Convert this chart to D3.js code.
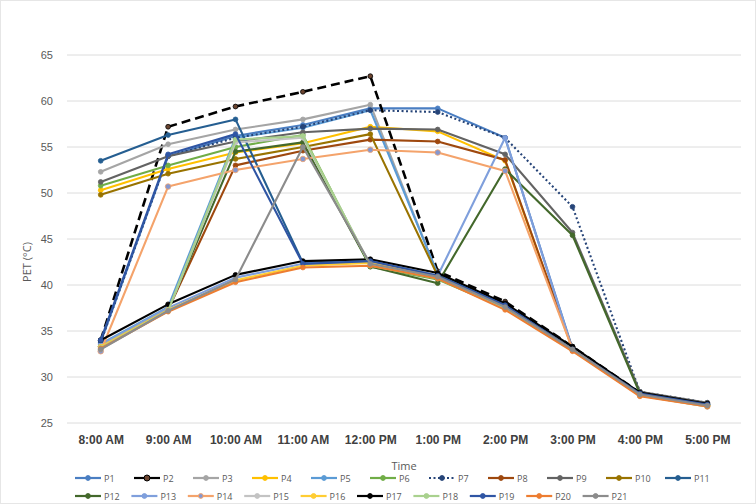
<!DOCTYPE html>
<html>
<head>
<meta charset="utf-8">
<script src="https://cdn.jsdelivr.net/npm/d3@7"></script>
<style>
  body { margin: 0; background: #fff; }
  svg { display: block; font-family: "Open Sans", "Liberation Sans", sans-serif; }
</style>
</head>
<body>
<svg id="canvas"></svg>
<script>
let width = 756;
let height = 504;

// data
const times = ['8:00 AM', '9:00 AM', '10:00 AM', '11:00 AM', '12:00 PM', '1:00 PM', '2:00 PM', '3:00 PM', '4:00 PM', '5:00 PM'];
const yTicks = [25, 30, 35, 40, 45, 50, 55, 60, 65];

const p1 = [33.8, 54.0, 56.2, 57.4, 59.2, 59.2, 56.0, 33.1, 28.2, 27.0];
const p2 = [34.0, 57.2, 59.4, 61.0, 62.7, 41.5, 38.2, 33.3, 28.3, 27.1];
const p3 = [52.3, 55.3, 56.9, 58.0, 59.6, 41.1, 37.8, 33.0, 28.2, 27.0];
const p4 = [50.3, 52.6, 54.4, 55.4, 57.2, 56.7, 53.5, 33.0, 28.1, 26.9];
const p5 = [33.6, 37.6, 56.0, 57.1, 59.0, 41.2, 37.9, 33.0, 28.2, 27.0];
const p6 = [50.8, 53.0, 55.0, 56.3, 42.0, 40.6, 37.5, 32.9, 28.1, 26.9];
const p7 = [33.8, 54.0, 56.0, 57.2, 59.0, 58.8, 56.0, 48.5, 28.4, 27.2];
const p8 = [33.3, 37.3, 53.0, 54.6, 55.8, 55.6, 53.6, 33.1, 28.1, 26.9];
const p9 = [51.2, 54.0, 55.6, 56.6, 57.0, 56.9, 54.2, 45.7, 28.4, 27.2];
const p10 = [49.8, 52.1, 53.7, 55.0, 56.4, 41.0, 37.6, 33.0, 28.1, 26.9];
const p11 = [53.5, 56.3, 58.0, 42.4, 42.6, 41.0, 37.8, 33.0, 28.2, 27.0];
const p12 = [33.3, 37.3, 54.5, 55.5, 42.0, 40.2, 52.6, 45.4, 28.2, 27.0];
const p13 = [33.5, 37.5, 40.8, 42.3, 42.6, 41.0, 56.0, 33.0, 28.2, 27.0];
const p14 = [32.8, 50.7, 52.5, 53.7, 54.7, 54.4, 52.4, 33.0, 28.0, 26.8];
const p15 = [33.0, 37.2, 55.5, 56.0, 42.2, 40.8, 37.5, 32.9, 28.0, 26.8];
const p16 = [33.3, 37.3, 40.5, 42.1, 42.4, 40.9, 37.6, 33.0, 28.1, 26.9];
const p17 = [34.0, 37.9, 41.1, 42.6, 42.8, 41.3, 38.0, 33.3, 28.3, 27.1];
const p18 = [33.2, 37.2, 55.8, 56.2, 42.1, 40.7, 37.5, 32.9, 28.0, 26.8];
const p19 = [34.0, 54.2, 56.4, 42.3, 42.6, 41.0, 37.8, 33.0, 28.2, 27.0];
const p20 = [33.1, 37.1, 40.3, 41.9, 42.1, 40.7, 37.3, 32.8, 27.9, 26.8];
const p21 = [33.0, 37.2, 40.6, 55.0, 42.3, 40.9, 37.6, 33.0, 28.1, 26.9];

const seriesNames = ['P1', 'P2', 'P3', 'P4', 'P5', 'P6', 'P7', 'P8', 'P9', 'P10', 'P11',
    'P12', 'P13', 'P14', 'P15', 'P16', 'P17', 'P18', 'P19', 'P20', 'P21'];
const seriesValues = [p1, p2, p3, p4, p5, p6, p7, p8, p9, p10, p11,
    p12, p13, p14, p15, p16, p17, p18, p19, p20, p21];

// styles, kept apart from the values
const colors = ['#4a7ec2', '#000000', '#a5a5a5', '#ffc000', '#5b9bd5', '#70ad47', '#264478',
    '#9e480e', '#636363', '#997300', '#255e91', '#43682b', '#7f9fdc', '#f4a36b', '#c3c3c3',
    '#ffcd33', '#000000', '#a9d18e', '#2f55a4', '#ed7d31', '#8c8c8c'];
const markerFill = { P2: '#6b4530', P14: '#8497d0' };
const dashes = { P2: '9,5', P7: '2,2.5' };

let canvas = d3.select('#canvas').attr('width', width).attr('height', height);

canvas.append('rect')
    .attr('x', 0.5).attr('y', 0.5)
    .attr('width', width - 1).attr('height', height - 1)
    .attr('fill', '#fff').attr('stroke', '#e6e6e6');

let xScale = d3.scalePoint().domain(times).range([67, 741]).padding(0.5);
let yScale = d3.scaleLinear().domain([25, 65]).range([423, 55]);

// grid
canvas.append('g')
    .selectAll('line')
    .data(yTicks)
    .enter()
    .append('line')
    .attr('x1', 67).attr('x2', 741)
    .attr('y1', (d) => yScale(d)).attr('y2', (d) => yScale(d))
    .attr('stroke', '#dcdcdc').attr('stroke-width', 1);

// axes
let yAxis = d3.axisLeft(yScale).tickValues(yTicks).tickSize(0).tickPadding(14);
canvas.append('g')
    .attr('transform', 'translate(67, 0)')
    .call(yAxis)
    .call((g) => g.select('.domain').remove())
    .selectAll('text')
    .attr('fill', '#595959')
    .style('font-size', '11px');

let xAxis = d3.axisBottom(xScale).tickSize(0).tickPadding(12);
canvas.append('g')
    .attr('transform', 'translate(0, 423)')
    .call(xAxis)
    .call((g) => g.select('.domain').remove())
    .selectAll('text')
    .attr('fill', '#404040')
    .style('font-size', '12px')
    .style('font-weight', '600');

canvas.append('text')
    .attr('x', 404).attr('y', 470)
    .attr('text-anchor', 'middle')
    .attr('fill', '#595959')
    .style('font-size', '11px')
    .text('Time');

canvas.append('text')
    .attr('transform', 'translate(31, 262) rotate(-90)')
    .attr('text-anchor', 'middle')
    .attr('fill', '#595959')
    .style('font-size', '11px')
    .text('PET (°C)');

// series
let line = d3.line()
    .x((d, i) => xScale(times[i]))
    .y((d) => yScale(d));

let series = seriesNames.map((name, i) => ({ name: name, values: seriesValues[i], color: colors[i] }));

let groups = canvas.append('g')
    .selectAll('g')
    .data(series)
    .enter()
    .append('g');

groups.append('path')
    .attr('d', (s) => line(s.values))
    .attr('fill', 'none')
    .attr('stroke', (s) => s.color)
    .attr('stroke-width', (s) => (s.name === 'P2' ? 2.6 : 2.1))
    .attr('stroke-dasharray', (s) => dashes[s.name] || null)
    .attr('stroke-linejoin', 'round');

groups.selectAll('circle')
    .data((s) => s.values.map((v, i) => ({ v: v, i: i, s: s })))
    .enter()
    .append('circle')
    .attr('cx', (d) => xScale(times[d.i]))
    .attr('cy', (d) => yScale(d.v))
    .attr('r', (d) => (d.s.name === 'P14' ? 2.8 : 2.4))
    .attr('fill', (d) => markerFill[d.s.name] || d.s.color)
    .attr('stroke', (d) => (d.s.name === 'P2' ? '#000' : d.s.color))
    .attr('stroke-width', 0.8);

// legend
let legendPos = (i) => {
    if (i < 11) return [75 + i * 59, 478];
    return [75 + (i - 11) * 56.4, 496];
};

let legend = canvas.append('g')
    .selectAll('g')
    .data(series)
    .enter()
    .append('g')
    .attr('transform', (s, i) => `translate(${legendPos(i)[0]}, ${legendPos(i)[1]})`);

legend.append('line')
    .attr('x1', 0).attr('x2', 26)
    .attr('y1', 0).attr('y2', 0)
    .attr('stroke', (s) => s.color)
    .attr('stroke-width', 2.2)
    .attr('stroke-dasharray', (s) => (s.name === 'P7' ? '2,2.5' : null));

legend.append('circle')
    .attr('cx', 13).attr('cy', 0)
    .attr('r', (s) => (s.name === 'P2' ? 3 : 2.4))
    .attr('fill', (s) => markerFill[s.name] || s.color)
    .attr('stroke', (s) => (s.name === 'P2' ? '#000' : s.color));

legend.append('text')
    .attr('x', 29).attr('y', 3.5)
    .attr('fill', '#595959')
    .style('font-size', '9px')
    .text((s) => s.name);
</script>
</body>
</html>
